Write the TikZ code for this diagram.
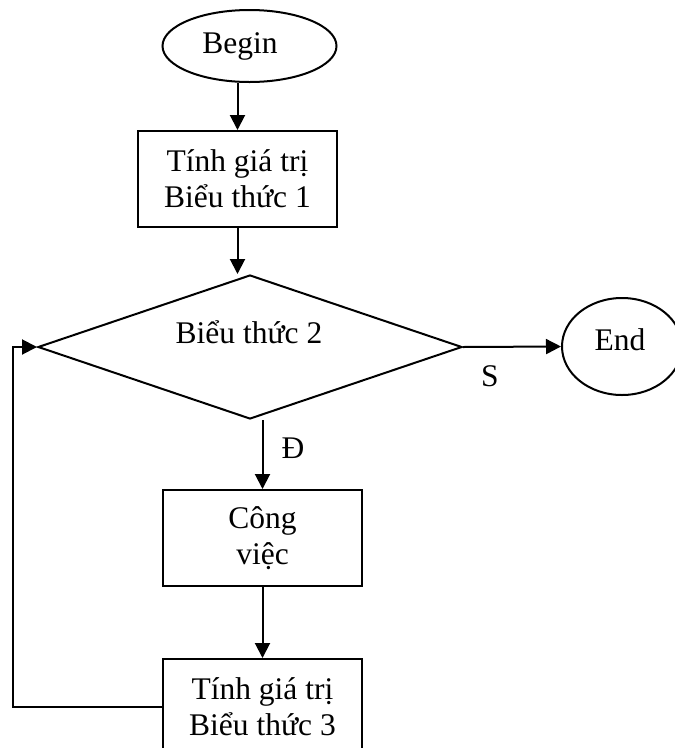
\documentclass[tikz,border=0pt]{standalone}
\usepackage{fontspec}
\setmainfont{Liberation Serif}
\usetikzlibrary{shapes.geometric,arrows.meta}
\begin{document}
\begin{tikzpicture}[x=1pt,y=1pt,
  every node/.style={font=\fontsize{31.5}{36}\selectfont},
  ln/.style={line width=2pt},
  arr/.style={ln,-{Triangle[length=15pt,width=15pt]}},
  stepbox/.style={draw,ln,rectangle,minimum width=199pt,minimum height=96pt,inner sep=0pt,align=center},
  term/.style={draw,ln,ellipse,inner sep=0pt},
  txt/.style={inner sep=0pt,align=center}]
\useasboundingbox (0,0) rectangle (675,-748);
\clip (0,0) rectangle (675,-748);
\node[term,minimum width=174pt,minimum height=72pt] (begin) at (249.5,-46) {};
\node[txt] (begintxt) at (240,-46) {Begin};
\node[stepbox] (box1) at (237.5,-179) {Tính giá trị\\Biểu thức 1};
\node[draw,ln,diamond,minimum width=424pt,minimum height=144pt,inner sep=0pt] (cond) at (250,-347) {};
\node[txt] (condtxt) at (249,-332) {Biểu thức 2};
\node[term,minimum width=120pt,minimum height=97pt] (end) at (622,-346.5) {};
\node[txt] (endtxt) at (620,-340) {End};
\node[stepbox] (box2) at (262.5,-538) {Công\\việc};
\node[stepbox] (box3) at (262.5,-707) {Tính giá trị\\Biểu thức 3};
\node[txt] (slab) at (490,-376) {S};
\node[txt] (dlab) at (293,-448) {Đ};
\coordinate (lc) at (13,-707);
\draw[arr] (box1.north |- begin.south) -- (box1.north);
\draw[arr] (box1.south) -- (box1.south |- cond.north);
\draw[arr] (cond.east) -- (end.west);
\draw[arr] (box2.north |- cond.south) -- (box2.north);
\draw[arr] (box2.south) -- (box3.north);
\draw[arr] (box3.west) -- (lc) |- (cond.west);
\end{tikzpicture}
\end{document}
